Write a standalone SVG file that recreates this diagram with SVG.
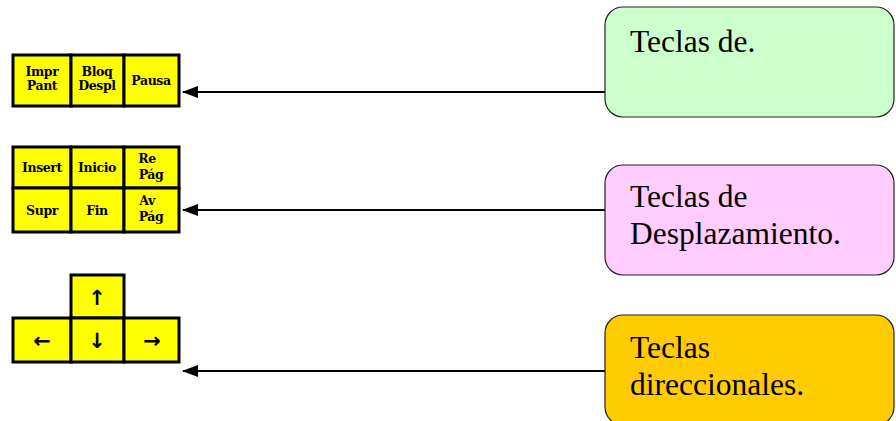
<svg xmlns="http://www.w3.org/2000/svg" width="896" height="421" viewBox="0 0 896 421">
<style>
.key{fill:#ffff00;stroke:#000;stroke-width:3}
.kt{font-family:"DejaVu Serif",serif;font-weight:bold;font-size:12.5px;text-anchor:middle;fill:#000;letter-spacing:-0.4px}
.ar{font-family:"DejaVu Sans",sans-serif;font-weight:bold;font-size:21px;text-anchor:middle;fill:#000}
.box{stroke:#222;stroke-width:1.2}
.bt{font-family:"Liberation Serif","Times New Roman",serif;font-size:31.5px;fill:#000}
.con{stroke:#000;stroke-width:2;fill:none}
</style>
<defs>
<marker id="ah" viewBox="0 0 16 12" refX="15" refY="6" markerWidth="16" markerHeight="12" markerUnits="userSpaceOnUse" orient="auto">
<path d="M0,0 L16,6 L0,12 Z" fill="#000"/>
</marker>
</defs>
<g id="keys-top">
<rect class="key" x="13" y="55" width="58" height="51"/>
<rect class="key" x="71" y="55" width="53" height="51"/>
<rect class="key" x="124" y="55" width="55" height="51"/>
<text class="kt" x="42" y="76">Impr</text>
<text class="kt" x="42" y="90">Pant</text>
<text class="kt" x="97" y="76">Bloq</text>
<text class="kt" x="97" y="90">Despl</text>
<text class="kt" x="151" y="85">Pausa</text>
</g>
<g id="keys-nav">
<rect class="key" x="13" y="147" width="58" height="41"/>
<rect class="key" x="71" y="147" width="53" height="41"/>
<rect class="key" x="124" y="147" width="55" height="41"/>
<rect class="key" x="13" y="188" width="58" height="44"/>
<rect class="key" x="71" y="188" width="53" height="44"/>
<rect class="key" x="124" y="188" width="55" height="44"/>
<text class="kt" x="42" y="172">Insert</text>
<text class="kt" x="97" y="172">Inicio</text>
<text class="kt" x="147" y="163">Re</text>
<text class="kt" x="151" y="179">Pág</text>
<text class="kt" x="42" y="215">Supr</text>
<text class="kt" x="97" y="215">Fin</text>
<text class="kt" x="147" y="205">Av</text>
<text class="kt" x="151" y="221">Pág</text>
</g>
<g id="keys-arrows">
<rect class="key" x="71" y="275" width="53" height="43"/>
<rect class="key" x="13" y="318" width="58" height="44"/>
<rect class="key" x="71" y="318" width="53" height="44"/>
<rect class="key" x="124" y="318" width="55" height="44"/>
<text class="ar" x="97" y="305">↑</text>
<text class="ar" x="42" y="348">←</text>
<text class="ar" x="97" y="348">↓</text>
<text class="ar" x="152" y="348">→</text>
</g>
<g id="connectors">
<line class="con" x1="605" y1="92" x2="183" y2="92" marker-end="url(#ah)"/>
<line class="con" x1="605" y1="210" x2="183" y2="210" marker-end="url(#ah)"/>
<line class="con" x1="605" y1="371" x2="183" y2="371" marker-end="url(#ah)"/>
</g>
<g id="box-teclas-de">
<rect class="box" x="605" y="7" width="289" height="110" rx="18" fill="#ccffcc"/>
<text class="bt" x="630" y="52">Teclas de.</text>
</g>
<g id="box-desplazamiento">
<rect class="box" x="605" y="165" width="289" height="110" rx="18" fill="#ffccff"/>
<text class="bt" x="630" y="207">Teclas de</text>
<text class="bt" x="630" y="244">Desplazamiento.</text>
</g>
<g id="box-direccionales">
<rect class="box" x="605" y="315" width="289" height="110" rx="18" fill="#ffcc00"/>
<text class="bt" x="630" y="358">Teclas</text>
<text class="bt" x="630" y="395">direccionales.</text>
</g>
</svg>
